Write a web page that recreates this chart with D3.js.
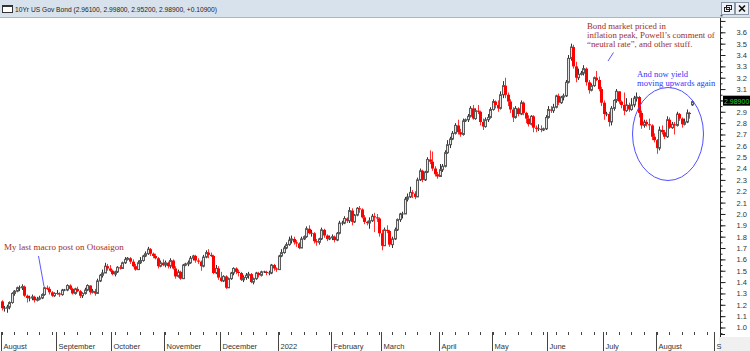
<!DOCTYPE html>
<html>
<head>
<meta charset="utf-8">
<script src="https://cdn.jsdelivr.net/npm/d3@7"></script>
<style>
  html, body { margin: 0; padding: 0; background: #fff; }
  svg { display: block; }
</style>
</head>
<body>
<script>
// daily bars [open, high, low, close], one array per month (weekdays only)
var aug21 = [
  [1.23,1.24,1.15,1.17],[1.17,1.19,1.14,1.17],[1.17,1.20,1.13,1.18],[1.18,1.23,1.16,1.22],[1.22,1.31,1.21,1.30],
  [1.30,1.33,1.28,1.32],[1.32,1.36,1.31,1.35],[1.35,1.37,1.32,1.35],[1.35,1.38,1.33,1.36],[1.36,1.37,1.27,1.28],
  [1.28,1.29,1.22,1.26],[1.26,1.28,1.23,1.26],[1.26,1.29,1.24,1.27],[1.27,1.28,1.22,1.24],[1.24,1.27,1.23,1.25],
  [1.25,1.28,1.24,1.26],[1.26,1.30,1.25,1.29],[1.29,1.36,1.28,1.35],[1.35,1.37,1.33,1.34],[1.34,1.36,1.29,1.31],
  [1.31,1.32,1.27,1.28],[1.28,1.31,1.27,1.30]
];
var sep21 = [
  [1.30,1.33,1.29,1.30],[1.30,1.31,1.27,1.29],[1.29,1.34,1.28,1.33],[1.33,1.34,1.32,1.33],[1.33,1.38,1.32,1.37],
  [1.37,1.38,1.33,1.34],[1.34,1.35,1.29,1.30],[1.30,1.35,1.29,1.34],[1.34,1.36,1.31,1.32],[1.32,1.33,1.26,1.28],
  [1.28,1.31,1.26,1.30],[1.30,1.35,1.29,1.33],[1.33,1.38,1.32,1.37],[1.37,1.37,1.29,1.31],[1.31,1.34,1.30,1.32],
  [1.32,1.34,1.28,1.30],[1.30,1.43,1.30,1.41],[1.41,1.47,1.40,1.46],[1.46,1.51,1.44,1.48],[1.48,1.57,1.48,1.54],
  [1.54,1.56,1.50,1.52],[1.52,1.55,1.49,1.50]
];
var oct21 = [
  [1.50,1.51,1.46,1.47],[1.47,1.50,1.45,1.49],[1.49,1.54,1.48,1.53],[1.53,1.55,1.51,1.52],[1.52,1.58,1.52,1.57],
  [1.57,1.62,1.56,1.60],[1.60,1.62,1.59,1.61],[1.61,1.62,1.56,1.58],[1.58,1.60,1.53,1.54],[1.54,1.56,1.50,1.51],
  [1.51,1.59,1.51,1.57],[1.57,1.62,1.56,1.59],[1.59,1.64,1.58,1.63],[1.63,1.67,1.62,1.65],[1.65,1.71,1.64,1.69],
  [1.69,1.70,1.63,1.65],[1.65,1.66,1.61,1.63],[1.63,1.65,1.60,1.61],[1.61,1.62,1.52,1.54],[1.54,1.59,1.53,1.57],
  [1.57,1.60,1.54,1.55]
];
var nov21 = [
  [1.55,1.59,1.53,1.57],[1.57,1.58,1.52,1.54],[1.54,1.61,1.52,1.59],[1.59,1.60,1.51,1.52],[1.52,1.54,1.43,1.45],
  [1.45,1.51,1.44,1.49],[1.49,1.50,1.42,1.43],[1.43,1.56,1.43,1.55],[1.55,1.57,1.54,1.56],[1.56,1.59,1.54,1.57],
  [1.57,1.63,1.56,1.61],[1.61,1.64,1.59,1.63],[1.63,1.64,1.57,1.59],[1.59,1.61,1.56,1.58],[1.58,1.59,1.50,1.54],
  [1.54,1.64,1.53,1.62],[1.62,1.68,1.61,1.66],[1.66,1.69,1.61,1.64],[1.64,1.66,1.62,1.63],[1.63,1.64,1.47,1.48],
  [1.48,1.55,1.47,1.52],[1.52,1.54,1.42,1.44]
];
var dec21 = [
  [1.44,1.49,1.40,1.41],[1.41,1.46,1.40,1.45],[1.45,1.46,1.34,1.35],[1.35,1.44,1.35,1.43],[1.43,1.49,1.42,1.48],
  [1.48,1.53,1.46,1.52],[1.52,1.53,1.47,1.49],[1.49,1.51,1.45,1.48],[1.48,1.49,1.41,1.42],[1.42,1.46,1.40,1.44],
  [1.44,1.48,1.42,1.46],[1.46,1.49,1.43,1.47],[1.47,1.48,1.39,1.40],[1.40,1.44,1.38,1.43],[1.43,1.49,1.42,1.48],
  [1.48,1.49,1.44,1.46],[1.46,1.50,1.45,1.49],[1.49,1.50,1.48,1.49],[1.49,1.50,1.46,1.48],[1.48,1.50,1.46,1.48],
  [1.48,1.56,1.47,1.55],[1.55,1.56,1.50,1.52],[1.52,1.53,1.49,1.51]
];
var jan22 = [
  [1.51,1.64,1.51,1.63],[1.63,1.69,1.62,1.66],[1.66,1.72,1.65,1.70],[1.70,1.75,1.69,1.73],[1.73,1.80,1.72,1.77],
  [1.77,1.81,1.74,1.78],[1.78,1.80,1.73,1.75],[1.75,1.77,1.71,1.74],[1.74,1.75,1.69,1.70],[1.70,1.80,1.70,1.78],
  [1.78,1.81,1.77,1.80],[1.80,1.89,1.79,1.87],[1.87,1.90,1.82,1.83],[1.83,1.86,1.80,1.83],[1.83,1.84,1.74,1.76],
  [1.76,1.78,1.72,1.75],[1.75,1.79,1.73,1.78],[1.78,1.88,1.77,1.86],[1.86,1.87,1.79,1.81],[1.81,1.82,1.76,1.78],
  [1.78,1.81,1.77,1.79]
];
var feb22 = [
  [1.79,1.82,1.77,1.80],[1.80,1.81,1.75,1.77],[1.77,1.84,1.76,1.83],[1.83,1.94,1.82,1.92],[1.92,1.94,1.90,1.92],
  [1.92,1.98,1.91,1.96],[1.96,1.97,1.92,1.94],[1.94,2.06,1.92,2.03],[2.03,2.05,1.90,1.93],[1.93,2.00,1.92,1.99],
  [1.99,2.06,1.98,2.05],[2.05,2.07,2.01,2.04],[2.04,2.05,1.96,1.97],[1.97,1.99,1.91,1.93],[1.93,1.94,1.90,1.92],
  [1.92,1.97,1.87,1.94],[1.94,2.00,1.93,1.98],[1.98,2.01,1.84,1.97],[1.97,2.00,1.93,1.96],[1.96,1.97,1.80,1.83]
];
var mar22 = [
  [1.83,1.86,1.68,1.72],[1.72,1.88,1.72,1.86],[1.86,1.90,1.83,1.85],[1.85,1.86,1.71,1.73],[1.73,1.80,1.70,1.78],
  [1.78,1.88,1.77,1.86],[1.86,1.96,1.85,1.95],[1.95,2.01,1.93,2.00],[2.00,2.02,1.96,2.00],[2.00,2.15,2.00,2.13],
  [2.13,2.18,2.11,2.15],[2.15,2.24,2.14,2.19],[2.19,2.21,2.14,2.18],[2.18,2.20,2.13,2.15],[2.15,2.32,2.15,2.30],
  [2.30,2.40,2.29,2.38],[2.38,2.39,2.28,2.30],[2.30,2.38,2.29,2.37],[2.37,2.50,2.36,2.48],[2.48,2.56,2.44,2.46],
  [2.46,2.55,2.38,2.40],[2.40,2.42,2.33,2.35],[2.35,2.37,2.31,2.33]
];
var apr22 = [
  [2.33,2.44,2.33,2.39],[2.39,2.44,2.37,2.42],[2.42,2.56,2.41,2.54],[2.54,2.65,2.53,2.61],[2.61,2.68,2.58,2.66],
  [2.66,2.73,2.65,2.71],[2.71,2.80,2.70,2.78],[2.78,2.83,2.70,2.72],[2.72,2.75,2.68,2.70],[2.70,2.84,2.69,2.82],
  [2.82,2.84,2.81,2.83],[2.83,2.88,2.81,2.86],[2.86,2.95,2.85,2.93],[2.93,2.96,2.83,2.84],[2.84,2.93,2.83,2.91],
  [2.91,2.96,2.88,2.90],[2.90,2.91,2.78,2.81],[2.81,2.84,2.74,2.77],[2.77,2.85,2.76,2.83],[2.83,2.88,2.81,2.85],
  [2.85,2.94,2.84,2.92]
];
var may22 = [
  [2.92,3.01,2.91,2.99],[2.99,3.00,2.93,2.96],[2.96,3.00,2.90,2.93],[2.93,3.08,2.92,3.05],[3.05,3.17,3.02,3.13],
  [3.13,3.20,3.02,3.05],[3.05,3.07,2.95,2.99],[2.99,3.01,2.89,2.92],[2.92,2.94,2.81,2.85],[2.85,2.95,2.84,2.93],
  [2.93,2.94,2.86,2.88],[2.88,3.00,2.87,2.98],[2.98,2.99,2.87,2.89],[2.89,2.90,2.80,2.84],[2.84,2.87,2.77,2.79],
  [2.79,2.87,2.78,2.86],[2.86,2.87,2.72,2.76],[2.76,2.78,2.72,2.75],[2.75,2.79,2.73,2.75],[2.75,2.78,2.72,2.74],
  [2.74,2.76,2.73,2.75],[2.75,2.87,2.74,2.85]
];
var jun22 = [
  [2.85,2.95,2.84,2.92],[2.92,2.95,2.89,2.91],[2.91,2.97,2.89,2.94],[2.94,3.05,2.93,3.04],[3.04,3.06,2.96,2.98],
  [2.98,3.04,2.97,3.03],[3.03,3.06,3.00,3.04],[3.04,3.18,3.03,3.16],[3.16,3.40,3.15,3.37],[3.37,3.50,3.35,3.47],
  [3.47,3.49,3.28,3.30],[3.30,3.34,3.16,3.20],[3.20,3.28,3.18,3.23],[3.23,3.26,3.22,3.24],[3.24,3.31,3.22,3.28],
  [3.28,3.29,3.13,3.16],[3.16,3.18,3.06,3.09],[3.09,3.15,3.08,3.13],[3.13,3.21,3.12,3.20],[3.20,3.26,3.17,3.18],
  [3.18,3.21,3.08,3.10],[3.10,3.12,2.95,2.98]
];
var jul22 = [
  [2.98,3.00,2.83,2.88],[2.88,2.90,2.86,2.88],[2.88,2.90,2.77,2.81],[2.81,2.95,2.78,2.93],[2.93,3.01,2.91,3.00],
  [3.00,3.10,2.98,3.08],[3.08,3.08,2.97,2.99],[2.99,3.00,2.93,2.96],[2.96,3.07,2.87,2.91],[2.91,3.02,2.90,2.96],
  [2.96,2.98,2.90,2.92],[2.92,3.02,2.91,2.96],[2.96,3.04,2.94,3.02],[3.02,3.07,2.99,3.03],[3.03,3.04,2.85,2.89],
  [2.89,2.91,2.75,2.78],[2.78,2.83,2.76,2.81],[2.81,2.83,2.77,2.79],[2.79,2.84,2.74,2.78],[2.78,2.79,2.65,2.68],
  [2.68,2.71,2.63,2.65]
];
var aug22 = [
  [2.65,2.66,2.53,2.58],[2.58,2.77,2.56,2.74],[2.74,2.78,2.70,2.72],[2.72,2.74,2.66,2.68],[2.68,2.86,2.67,2.83],
  [2.83,2.85,2.75,2.76],[2.76,2.81,2.75,2.79],[2.79,2.81,2.70,2.78],[2.78,2.90,2.77,2.88],[2.88,2.89,2.82,2.84],
  [2.84,2.85,2.76,2.79],[2.79,2.84,2.78,2.81],[2.81,2.92,2.80,2.89],[2.89,2.90,2.84,2.88],[2.961,2.998,2.952,2.989]
];

var monthNames = ["August","September","October","November","December","2022","February","March","April","May","June","July","August","S"];
var monthBars = [aug21, sep21, oct21, nov21, dec21, jan22, feb22, mar22, apr22, may22, jun22, jul22, aug22];
var augTailDays = 8;          // weekdays left in Aug 2022 after the last bar
var yTickValues = [1.0,1.1,1.2,1.3,1.4,1.5,1.6,1.7,1.8,1.9,2.0,2.1,2.2,2.3,2.4,2.5,2.6,2.7,2.8,2.9,3.0,3.1,3.2,3.3,3.4,3.5,3.6];
var title = "10Yr US Gov Bond (2.96100, 2.99800, 2.95200, 2.98900, +0.10900)";
var lastPrice = 2.989;

// flatten the months, remember where each one starts
var bars = [], monthStart = [];
monthBars.forEach(function (m) {
  monthStart.push(bars.length);
  m.forEach(function (d) { bars.push({o: d[0], h: d[1], l: d[2], c: d[3], i: bars.length}); });
});
monthStart.push(bars.length + augTailDays);

var W = 750, H = 351;
var plotTop = 18, plotBottom = 331, axisX = 720;

var svg = d3.select('body').append('svg').attr('width', W).attr('height', H)
  .style('font-family', '"Liberation Sans", Arial, sans-serif');

var x = d3.scaleLinear().domain([0, monthStart[monthStart.length - 1]]).range([1.5, 714.5]);
var y = d3.scaleLinear().domain([1.0, 3.6]).range([327.5, 32.3]);

// title bar
svg.append('rect').attr('x', 0).attr('y', 0).attr('width', W).attr('height', 17).attr('fill', '#d8e2ec');
svg.append('line').attr('x1', 0).attr('x2', W).attr('y1', 17.5).attr('y2', 17.5).attr('stroke', '#a9b7c6');
svg.append('rect').attr('x', 2.5).attr('y', 5.5).attr('width', 10).attr('height', 7).attr('fill', '#fff').attr('stroke', '#333');
svg.append('line').attr('x1', 2.5).attr('x2', 12.5).attr('y1', 6.5).attr('y2', 6.5).attr('stroke', '#333');
svg.append('text').attr('x', 15).attr('y', 11.5).attr('font-size', 8).attr('fill', '#222')
  .attr('textLength', 202).attr('lengthAdjust', 'spacingAndGlyphs').text(title);
[721, 735].forEach(function (bx, k) {
  svg.append('rect').attr('x', bx + 0.5).attr('y', 2.5).attr('width', 13).attr('height', 12)
    .attr('fill', '#eef2f6').attr('stroke', '#8a98a8');
  if (k === 0) {
    svg.append('rect').attr('x', bx + 3.5).attr('y', 7.5).attr('width', 5).attr('height', 4).attr('fill', 'none').attr('stroke', '#222');
    svg.append('rect').attr('x', bx + 5.5).attr('y', 5.5).attr('width', 5).attr('height', 4).attr('fill', 'none').attr('stroke', '#222');
  } else {
    svg.append('path').attr('d', 'M' + (bx + 4) + ',5.5L' + (bx + 10) + ',11.5M' + (bx + 10) + ',5.5L' + (bx + 4) + ',11.5')
      .attr('stroke', '#111').attr('stroke-width', 1.6);
  }
});

// gray corner under the price axis
svg.append('rect').attr('x', axisX - 1).attr('y', 337).attr('width', W - axisX + 1).attr('height', H - 337).attr('fill', '#f0f0f0');

// candles
svg.append('clipPath').attr('id', 'plot').append('rect')
  .attr('x', 0).attr('y', plotTop).attr('width', axisX).attr('height', plotBottom - plotTop);
var g = svg.append('g').attr('clip-path', 'url(#plot)');
var candle = g.selectAll('g.candle').data(bars).enter().append('g').attr('class', 'candle');

candle.append('line')
  .attr('x1', function (d) { return Math.round(x(d.i)) + 0.5; })
  .attr('x2', function (d) { return Math.round(x(d.i)) + 0.5; })
  .attr('y1', function (d) { return y(d.h); })
  .attr('y2', function (d) { return y(d.l); })
  .attr('stroke', function (d) { return d.c < d.o ? '#ff3030' : '#333'; });

candle.append('rect')
  .attr('x', function (d) { return d.c < d.o ? Math.round(x(d.i)) - 1 : Math.round(x(d.i)) - 0.5; })
  .attr('y', function (d) { return y(Math.max(d.o, d.c)); })
  .attr('width', function (d) { return d.c < d.o ? 3 : 2; })
  .attr('height', function (d) { return Math.max(d.c < d.o ? 1 : 0.01, Math.abs(y(d.o) - y(d.c))); })
  .attr('fill', function (d) { return d.c < d.o ? '#ff0000' : '#e4e4e4'; })
  .attr('stroke', function (d) { return d.c < d.o ? 'none' : '#5a5a5a'; })
  .attr('stroke-width', 1);

// price axis on the right
svg.append('line').attr('x1', axisX + 0.5).attr('x2', axisX + 0.5).attr('y1', plotTop).attr('y2', 337).attr('stroke', '#222');
var minorAxis = d3.axisRight(y).tickValues(d3.range(0.95, 3.76, 0.05)).tickSize(2).tickFormat('');
var majorAxis = d3.axisRight(y).tickValues(yTickValues.concat([3.7])).tickSize(5).tickPadding(11)
  .tickFormat(function (v) {
    // 3.0 sits under the last-price tag
    return (v > 3.65 || Math.abs(v - 3.0) < 0.01) ? '' : d3.format('.1f')(v);
  });
[minorAxis, majorAxis].forEach(function (ax) {
  var a = svg.append('g').attr('transform', 'translate(' + (axisX + 0.5) + ',0)').call(ax);
  a.select('.domain').remove();
  a.selectAll('line').attr('stroke', '#222');
  a.selectAll('text').attr('font-size', 7.5).attr('fill', '#333').attr('font-family', '"Liberation Sans", Arial, sans-serif');
});
svg.append('line').attr('x1', axisX).attr('x2', axisX + 5).attr('y1', 334.5).attr('y2', 334.5).attr('stroke', '#222');

// last price tag
svg.append('rect').attr('x', 723).attr('y', y(lastPrice) - 6).attr('width', 27).attr('height', 10).attr('fill', '#000');
svg.append('text').attr('x', 724).attr('y', y(lastPrice) + 2).attr('font-size', 7).attr('fill', '#22dd22').text(lastPrice.toFixed(5));

// time axis: weekly ticks and month separators
var weekly = d3.range(0, monthStart[monthStart.length - 1], 5);
svg.selectAll('line.wk').data(weekly).enter().append('line').attr('class', 'wk')
  .attr('x1', function (i) { return Math.round(x(i)) + 0.5; })
  .attr('x2', function (i) { return Math.round(x(i)) + 0.5; })
  .attr('y1', 332).attr('y2', 335).attr('stroke', '#444');
svg.selectAll('line.mo').data(monthStart).enter().append('line').attr('class', 'mo')
  .attr('x1', function (i) { return Math.round(x(i)) - 0.5; })
  .attr('x2', function (i) { return Math.round(x(i)) - 0.5; })
  .attr('y1', 332).attr('y2', H).attr('stroke', '#444');
svg.selectAll('text.mo').data(monthStart).enter().append('text').attr('class', 'mo')
  .attr('x', function (i) { return Math.round(x(i)) + 1.5; })
  .attr('y', 348.5).attr('font-size', 7.5).attr('fill', '#333')
  .text(function (i, k) { return monthNames[k]; });

// annotations
var serif = '"Liberation Serif", "Times New Roman", serif';
svg.append('text').attr('x', 4).attr('y', 250).attr('font-family', serif).attr('font-size', 9).attr('fill', '#a0302a')
  .text('My last macro post on Otosaigon');
svg.append('line').attr('x1', 38.5).attr('y1', 256).attr('x2', 44).attr('y2', 286.5).attr('stroke', '#5a5aff');

var note = svg.append('text').attr('font-family', serif).attr('font-size', 8.8).attr('fill', '#a0302a');
['Bond market priced in', 'inflation peak, Powell\u2019s comment of', '\u201Cneutral rate\u201D, and other stuff.'].forEach(function (t, k) {
  note.append('tspan').attr('x', 587).attr('y', 28.5 + k * 9.3).text(t);
});
svg.append('line').attr('x1', 613.5).attr('y1', 52.5).attr('x2', 608).attr('y2', 61).attr('stroke', '#5a5aff');

var blue = svg.append('text').attr('font-family', serif).attr('font-size', 8.6).attr('fill', '#3535ff');
['And now yield', 'moving upwards again'].forEach(function (t, k) {
  blue.append('tspan').attr('x', 637).attr('y', 76.5 + k * 9).text(t);
});
svg.append('ellipse').attr('cx', 668).attr('cy', 134).attr('rx', 35.5).attr('ry', 46.5)
  .attr('fill', 'none').attr('stroke', '#5050ff');
</script>
</body>
</html>
